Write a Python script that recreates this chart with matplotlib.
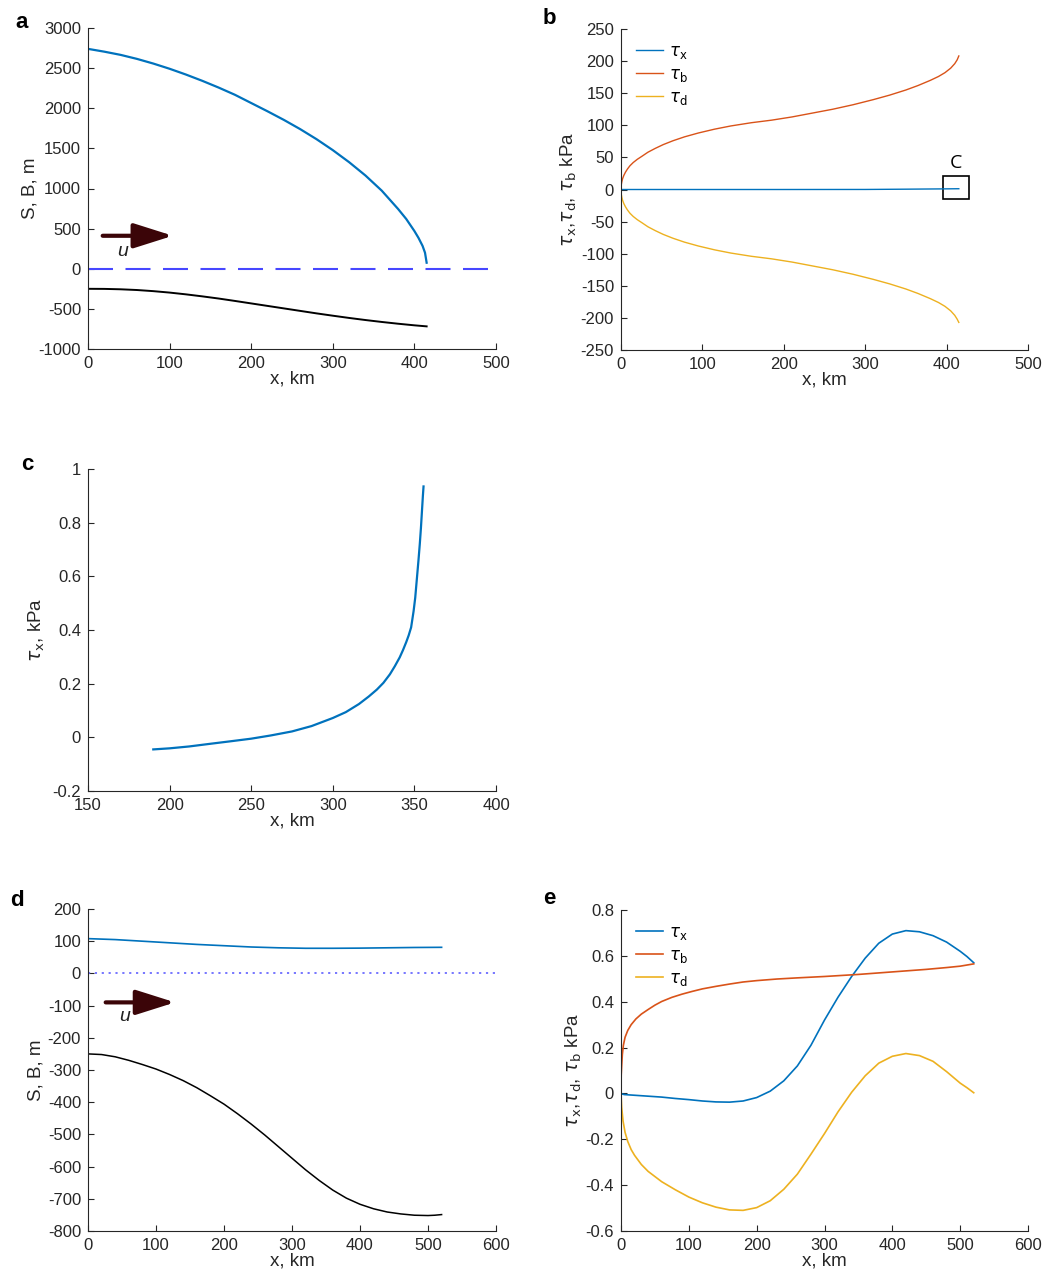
import matplotlib
matplotlib.use("Agg")
import matplotlib.pyplot as plt
from matplotlib.patches import Rectangle

plt.rcParams['font.family'] = ['Liberation Sans', 'DejaVu Sans']
plt.rcParams['mathtext.fontset'] = 'dejavusans'
plt.rcParams['axes.unicode_minus'] = False

# MATLAB default line colours
BLUE = '#0072BD'
ORANGE = '#D95319'
YELLOW = '#EDB120'
AXC = '#262626'

# panel a: surface and bed (m) along x (km)
x_aS = [0, 20, 40, 60, 80, 100, 120, 140, 160, 180, 200, 220, 240, 260, 280, 300, 320, 340, 360, 380, 390, 400, 405, 410, 413, 415]
S_a = [2740, 2705, 2665, 2615, 2557, 2492, 2420, 2342, 2258, 2168, 2065, 1962, 1855, 1740, 1615, 1478, 1328, 1162, 973, 745, 620, 470, 385, 285, 200, 75]
x_aB = [0, 20, 40, 60, 80, 100, 120, 140, 160, 180, 200, 220, 240, 260, 280, 300, 320, 340, 360, 380, 400, 415]
B_a = [-250, -251, -256, -265, -279, -297, -319, -344, -371, -401, -432, -463, -494, -525, -556, -585, -613, -639, -663, -685, -705, -718]

# panel b: stresses (kPa)
x_b = [0, 0.3, 1, 2, 3.5, 5.5, 8, 11, 15, 20, 26, 33, 42, 52, 64, 78, 95, 115, 135, 160, 185, 210, 235, 260, 285, 310, 330, 350, 365, 380, 390, 398, 405, 410, 413, 415]
taub_b = [0, 7, 12, 17, 22, 27, 32, 37, 42, 47, 52, 58, 64, 70, 76, 82, 88, 94, 99, 104, 108, 113, 119, 125, 132, 140, 147, 155, 162, 170, 176, 182, 189, 196, 202, 208]
taud_b = [0, -7, -12, -17, -22, -27, -32, -37, -42, -47, -52, -58, -64, -70, -76, -82, -88, -94, -99, -104, -108, -113, -119, -125, -132, -140, -147, -155, -162, -170, -176, -182, -189, -196, -202, -207]
x_bx = [0, 100, 200, 300, 350, 380, 400, 415]
taux_b = [0, 0, 0, 0.07, 0.5, 0.8, 1.0, 1.2]

# panel c: zoom of tau_x (kPa)
x_c = [190, 200, 212, 225, 237, 250, 262, 275, 287, 300, 308, 316, 322, 327, 331, 335, 338, 341, 343, 345, 346.5, 348, 349.5, 350.5, 351.5, 352.5, 353.3, 354, 354.7, 355.2, 355.6]
taux_c = [-0.045, -0.041, -0.034, -0.024, -0.015, -0.005, 0.007, 0.022, 0.042, 0.072, 0.094, 0.124, 0.152, 0.178, 0.203, 0.235, 0.265, 0.298, 0.325, 0.355, 0.38, 0.41, 0.47, 0.52, 0.59, 0.66, 0.72, 0.78, 0.85, 0.9, 0.935]

# panel d: surface and bed (m)
x_dS = [0, 40, 80, 120, 160, 200, 240, 280, 320, 360, 400, 440, 480, 520]
S_d = [108, 105, 100, 95, 90, 86, 82, 79.5, 78, 78, 78.5, 79.5, 80.5, 81]
x_dB = [0, 20, 40, 60, 80, 100, 120, 140, 160, 180, 200, 220, 240, 260, 280, 300, 320, 340, 360, 380, 400, 420, 440, 460, 480, 500, 510, 520]
B_d = [-250, -252, -259, -270, -283, -297, -314, -333, -355, -380, -406, -436, -468, -502, -538, -574, -610, -643, -673, -698, -717, -731, -741, -747, -751, -752, -751, -749]

# panel e: stresses (kPa)
x_eb = [0, 0.3, 1, 2, 3.5, 6, 10, 15, 22, 30, 40, 50, 60, 75, 90, 105, 120, 140, 160, 180, 200, 230, 260, 300, 350, 400, 450, 480, 500, 520]
taub_e = [0, 0.08, 0.12, 0.17, 0.21, 0.245, 0.275, 0.3, 0.325, 0.346, 0.366, 0.385, 0.401, 0.419, 0.433, 0.445, 0.456, 0.467, 0.477, 0.486, 0.492, 0.499, 0.504, 0.51, 0.519, 0.53, 0.541, 0.549, 0.555, 0.565]
x_ex = [0, 2, 5, 10, 20, 40, 60, 80, 100, 120, 140, 160, 180, 200, 220, 240, 260, 280, 300, 320, 340, 360, 380, 400, 420, 440, 460, 480, 500, 510, 520]
taux_e = [0, -0.003, -0.005, -0.006, -0.008, -0.012, -0.016, -0.022, -0.027, -0.033, -0.037, -0.038, -0.033, -0.018, 0.01, 0.055, 0.12, 0.21, 0.32, 0.42, 0.51, 0.59, 0.655, 0.695, 0.71, 0.705, 0.688, 0.66, 0.62, 0.597, 0.57]
x_ed = [0, 1, 3, 6, 10, 15, 20, 30, 40, 60, 80, 100, 120, 140, 160, 180, 200, 220, 240, 260, 280, 300, 320, 340, 360, 380, 400, 420, 440, 460, 480, 500, 510, 520]
taud_e = [0, -0.06, -0.12, -0.17, -0.21, -0.245, -0.27, -0.31, -0.34, -0.385, -0.42, -0.452, -0.477, -0.496, -0.508, -0.51, -0.498, -0.468, -0.418, -0.352, -0.265, -0.175, -0.08, 0.005, 0.077, 0.132, 0.162, 0.174, 0.165, 0.14, 0.095, 0.045, 0.025, 0.003]

W, H = 1046, 1270
fig = plt.figure(figsize=(W / 100, H / 100), dpi=100)

TICK_FS = 12
LAB_FS = 13.5


def make_axes(x0, y0, x1, y1):
    # pixel box -> figure fraction
    ax = fig.add_axes([x0 / W, 1 - y1 / H, (x1 - x0) / W, (y1 - y0) / H])
    for s in ['top', 'right']:
        ax.spines[s].set_visible(False)
    for s in ['left', 'bottom']:
        ax.spines[s].set_color(AXC)
        ax.spines[s].set_linewidth(0.8)
    ax.tick_params(direction='in', length=4, width=0.8, color=AXC,
                   labelcolor=AXC, labelsize=TICK_FS, pad=5)
    return ax


def flow_arrow(ax, x0, x1, y, ux, uy):
    ax.annotate('', xy=(x1, y), xytext=(x0, y),
                arrowprops=dict(arrowstyle='-|>,head_length=1.2,head_width=0.38',
                                mutation_scale=20, lw=3, color='#3b0508',
                                shrinkA=0, shrinkB=0))
    ax.text(ux, uy, 'u', style='italic', fontsize=14, color='#222222',
            ha='center', va='center')


def stress_legend(ax):
    ax.legend(loc='upper left', frameon=False, fontsize=12, handlelength=1.6,
              handletextpad=0.4, labelspacing=0.35, borderaxespad=0.5,
              bbox_to_anchor=(0.0, 1.0))


tau_ylabel = r'$\tau_{\mathrm{x}}$,$\tau_{\mathrm{d}}$, $\tau_{\mathrm{b}}$ kPa'

# ---- a ----
ax = make_axes(88, 28, 496, 349)
ax.plot(x_aS, S_a, color=BLUE, lw=1.6)
ax.plot(x_aB, B_a, color='black', lw=1.4)
ax.axhline(0, color='#4747ff', lw=1.5, dashes=(12, 6))
flow_arrow(ax, 18, 104, 411, 43, 220)
ax.set_xlim(0, 500)
ax.set_ylim(-1000, 3000)
ax.set_yticks(range(-1000, 3001, 500))
ax.set_xlabel('x, km', fontsize=LAB_FS, color=AXC, labelpad=0)
ax.set_ylabel('S, B, m', fontsize=LAB_FS, color=AXC, labelpad=0)

# ---- b ----
ax = make_axes(621, 29, 1028, 350)
ax.plot(x_bx, taux_b, color=BLUE, lw=1.0, label=r'$\tau_{\mathrm{x}}$')
ax.plot(x_b, taub_b, color=ORANGE, lw=1.0, label=r'$\tau_{\mathrm{b}}$')
ax.plot(x_b, taud_b, color=YELLOW, lw=1.0, label=r'$\tau_{\mathrm{d}}$')
ax.add_patch(Rectangle((396, -15), 32, 36, fill=False, ec='black', lw=1.2))
ax.text(411, 42, 'C', fontsize=14, ha='center', va='center', family='Open Sans')
ax.set_xlim(0, 500)
ax.set_ylim(-250, 250)
ax.set_yticks(range(-250, 251, 50))
ax.set_xlabel('x, km', fontsize=LAB_FS, color=AXC, labelpad=0)
ax.set_ylabel(tau_ylabel, fontsize=LAB_FS, color=AXC, labelpad=1)
stress_legend(ax)

# ---- c ----
ax = make_axes(88, 469, 496, 791)
ax.plot(x_c, taux_c, color=BLUE, lw=1.6)
ax.set_xlim(150, 400)
ax.set_ylim(-0.2, 1.0)
ax.set_yticks([-0.2, 0, 0.2, 0.4, 0.6, 0.8, 1])
ax.set_yticklabels(['-0.2', '0', '0.2', '0.4', '0.6', '0.8', '1'])
ax.set_xlabel('x, km', fontsize=LAB_FS, color=AXC, labelpad=0)
ax.set_ylabel(r'$\tau_{\mathrm{x}}$, kPa', fontsize=LAB_FS, color=AXC, labelpad=4)

# ---- d ----
ax = make_axes(88, 909, 496, 1231)
ax.plot(x_dS, S_d, color=BLUE, lw=1.2)
ax.plot(x_dB, B_d, color='black', lw=1.1)
ax.axhline(0, color='#6b6bff', lw=1.3, dashes=(1.2, 2.6))
flow_arrow(ax, 26, 128, -90, 54, -134)
ax.set_xlim(0, 600)
ax.set_ylim(-800, 200)
ax.set_yticks(range(-800, 201, 100))
ax.set_xlabel('x, km', fontsize=LAB_FS, color=AXC, labelpad=0)
ax.set_ylabel('S, B, m', fontsize=LAB_FS, color=AXC, labelpad=2)

# ---- e ----
ax = make_axes(621, 910, 1028, 1231)
ax.plot(x_ex, taux_e, color=BLUE, lw=1.2, label=r'$\tau_{\mathrm{x}}$')
ax.plot(x_eb, taub_e, color=ORANGE, lw=1.2, label=r'$\tau_{\mathrm{b}}$')
ax.plot(x_ed, taud_e, color=YELLOW, lw=1.2, label=r'$\tau_{\mathrm{d}}$')
ax.set_xlim(0, 600)
ax.set_ylim(-0.6, 0.8)
ax.set_yticks([-0.6, -0.4, -0.2, 0, 0.2, 0.4, 0.6, 0.8])
ax.set_yticklabels(['-0.6', '-0.4', '-0.2', '0', '0.2', '0.4', '0.6', '0.8'])
ax.set_xlabel('x, km', fontsize=LAB_FS, color=AXC, labelpad=0)
ax.set_ylabel(tau_ylabel, fontsize=LAB_FS, color=AXC, labelpad=1)
stress_legend(ax)

# panel letters
for letter, px, py in [('a', 22, 22), ('b', 549, 18), ('c', 27, 464),
                       ('d', 17, 900), ('e', 549, 899)]:
    fig.text(px / W, 1 - py / H, letter, fontsize=16, fontweight='bold',
             ha='center', va='center')

fig.savefig('out.png', dpi=100, facecolor='white')
